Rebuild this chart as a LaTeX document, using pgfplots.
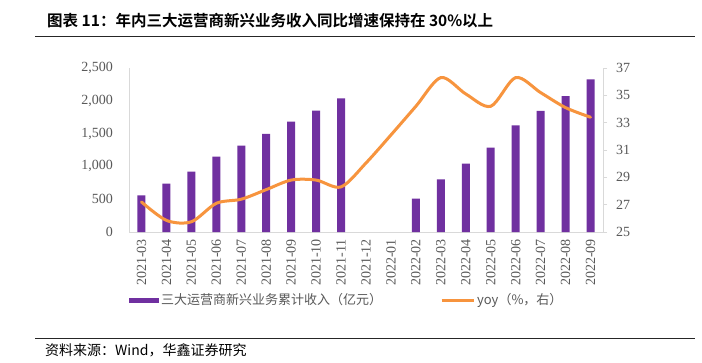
\documentclass[border=0pt]{standalone}
\usepackage{fontspec}
\setmainfont{Liberation Serif}
\newfontfamily\cjk{Noto Sans CJK SC}
\newfontfamily\cjkb{Noto Sans CJK SC Bold}
\usepackage{pgfplots}
\pgfplotsset{compat=1.18}
\definecolor{barpurple}{HTML}{7030A0}
\definecolor{lineorange}{HTML}{F7943E}
\definecolor{txtgray}{HTML}{595959}
\definecolor{axgray}{HTML}{D9D9D9}
\begin{document}
\begin{tikzpicture}[x=1pt,y=1pt]
\useasboundingbox[fill=white] (0,0) rectangle (702,-362);
\node[anchor=base west, inner sep=0pt, font=\cjkb\fontsize{15.5}{15.5}\selectfont] at (47,-26) {图表 11：年内三大运营商新兴业务收入同比增速保持在 30\%以上};
\draw[line width=1pt, black!85] (35,-36) -- (695,-36);
\draw[line width=1pt, black!85] (35,-338) -- (695,-338);
\node[anchor=base west, inner sep=0pt, font=\cjk\fontsize{14}{14}\selectfont] at (45,-355) {资料来源：Wind，华鑫证券研究};

\begin{axis}[
  at={(129pt,-232pt)}, anchor=south west, scale only axis,
  width=474pt, height=164pt,
  xmin=-0.5, xmax=18.5, ymin=0, ymax=2500,
  axis x line*=bottom, axis y line*=left,
  axis line style={draw=axgray, line width=0.8pt},
  xtick={0,...,18},
  xticklabels={2021-03,2021-04,2021-05,2021-06,2021-07,2021-08,2021-09,2021-10,2021-11,2021-12,2022-01,2022-02,2022-03,2022-04,2022-05,2022-06,2022-07,2022-08,2022-09},
  xticklabel style={yshift=-7pt, rotate=90, anchor=east, font=\fontsize{14}{14}\selectfont, text=txtgray, inner sep=0pt},
  ytick={0,500,1000,1500,2000,2500},
  yticklabel style={font=\fontsize{14}{14}\selectfont, text=txtgray, inner sep=0pt, xshift=-16pt, anchor=east},
  /pgf/number format/.cd, 1000 sep={,}, assume math mode=true, /pgfplots/.cd,
  major tick length=0pt,
  ybar, bar width=8pt,
  legend style={at={(0,-0.415)}, anchor=west, draw=none, fill=none, inner sep=0pt,
    legend columns=2, font=\cjk\fontsize{13}{13}\selectfont, text=txtgray,
    /tikz/every even column/.append style={column sep=56pt}},
  legend cell align=left,
]
\addplot[fill=barpurple, draw=none,
  legend image code/.code={\fill[barpurple] (0pt,-2.5pt) rectangle (30pt,2.5pt);}]
  coordinates {(0,560) (1,737) (2,920) (3,1148) (4,1316) (5,1494) (6,1682) (7,1850) (8,2038)
  (11,508) (12,803) (13,1042) (14,1286) (15,1626) (16,1845) (17,2073) (18,2327)};
\addlegendentry{三大运营商新兴业务累计收入（亿元）}
\addlegendimage{legend image code/.code={\draw[lineorange, line width=3pt] (0pt,0pt) -- (32pt,0pt);}}
\addlegendentry{yoy（\%，右）}
\end{axis}

\begin{axis}[
  at={(129pt,-232pt)}, anchor=south west, scale only axis,
  width=474pt, height=164pt,
  xmin=-0.5, xmax=18.5, ymin=25, ymax=37,
  axis x line=none, axis y line*=right,
  axis line style={draw=axgray, line width=0.8pt},
  ytick={25,27,29,31,33,35,37},
  ytick style={draw=axgray, line width=0.8pt},
  tick align=outside, major tick length=4pt,
  yticklabel style={font=\fontsize{14}{14}\selectfont, text=txtgray, inner sep=0pt, xshift=9pt, anchor=west},
  /pgf/number format/assume math mode=true,
]
\addplot[lineorange, line width=3pt, smooth, tension=0.5, line cap=round]
  coordinates {(0,27.2) (1,25.85) (2,25.75) (3,27.1) (4,27.4) (5,28.1) (6,28.8) (7,28.8) (8,28.3)
  (9,30.05) (10,32.1) (11,34.2) (12,36.3) (13,35.1) (14,34.2) (15,36.3) (16,35.2) (17,34.1) (18,33.4)};
\end{axis}
\end{tikzpicture}
\end{document}
